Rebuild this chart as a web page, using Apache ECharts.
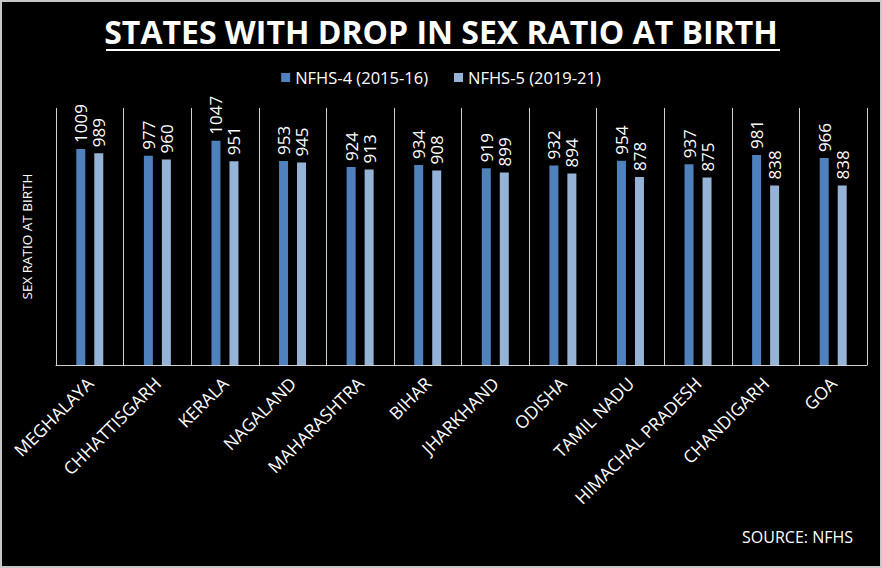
<!DOCTYPE html>
<html lang="en">
<head>
    <meta charset="UTF-8">
    <title>States with drop in sex ratio at birth</title>
    <script src="https://cdn.jsdelivr.net/npm/echarts@6/dist/echarts.min.js"></script>
    <style>
        html, body { margin: 0; padding: 0; background: #000; }
        #ChartId { width: 882px; height: 568px; box-sizing: border-box; border: 2px solid #c8c8c8; }
    </style>
</head>
<body>
<div id="ChartId"></div>
<script>
    // 数据
    var states = ['MEGHALAYA', 'CHHATTISGARH', 'KERALA', 'NAGALAND', 'MAHARASHTRA', 'BIHAR',
        'JHARKHAND', 'ODISHA', 'TAMIL NADU', 'HIMACHAL PRADESH', 'CHANDIGARH', 'GOA'];
    var nfhs4 = [1009, 977, 1047, 953, 924, 934, 919, 932, 954, 937, 981, 966];
    var nfhs5 = [989, 960, 951, 945, 913, 908, 899, 894, 878, 875, 838, 838];
    var seriesNames = ['NFHS-4 (2015-16)', 'NFHS-5 (2019-21)'];

    var font = '"Open Sans", Lato, sans-serif';
    var myChart = echarts.init(document.getElementById('ChartId'), null, {renderer: 'svg'});

    function barLabel() {
        return {
            show: true,
            position: 'top',
            rotate: 90,
            align: 'left',
            verticalAlign: 'middle',
            distance: 6,
            color: '#fff',
            fontFamily: font,
            fontSize: 17
        };
    }

    var option = {
        backgroundColor: '#000',
        title: {
            text: 'STATES WITH DROP IN SEX RATIO AT BIRTH',
            left: 'center',
            top: 8,
            textStyle: {color: '#fff', fontFamily: font, fontWeight: 'bold', fontSize: 32}
        },
        graphic: [{
            type: 'line',
            shape: {x1: 104, y1: 48, x2: 778, y2: 48},
            style: {stroke: '#fff', lineWidth: 2}
        }, {
            type: 'text',
            right: 27,
            top: 527,
            style: {text: 'SOURCE: NFHS', fill: '#fff', font: '16px ' + font}
        }],
        legend: {
            top: 62,
            left: 'center',
            itemWidth: 9,
            itemHeight: 9,
            itemGap: 26,
            icon: 'rect',
            textStyle: {color: '#fff', fontFamily: font, fontSize: 16.5},
            data: seriesNames
        },
        grid: {left: 54, right: 13, top: 106, bottom: 201},
        xAxis: {
            type: 'category',
            data: states,
            axisLine: {lineStyle: {color: '#d0d0d0', width: 1}},
            axisTick: {show: false},
            splitLine: {show: true, lineStyle: {color: '#d0d0d0', width: 1}},
            axisLabel: {
                interval: 0,
                rotate: 45,
                margin: 15,
                color: '#fff',
                fontFamily: font,
                fontSize: 17.5
            }
        },
        yAxis: {
            type: 'value',
            min: 0,
            max: 1200,
            name: 'SEX RATIO AT BIRTH',
            nameLocation: 'middle',
            nameGap: 22,
            nameRotate: 90,
            nameTextStyle: {color: '#fff', fontFamily: font, fontSize: 13.5},
            axisLine: {show: false},
            axisTick: {show: false},
            axisLabel: {show: false},
            splitLine: {show: false}
        },
        series: [{
            name: seriesNames[0],
            type: 'bar',
            data: nfhs4,
            barWidth: 9,
            barGap: '100%',
            itemStyle: {color: '#4f81bd'},
            label: barLabel()
        }, {
            name: seriesNames[1],
            type: 'bar',
            data: nfhs5,
            barWidth: 9,
            itemStyle: {color: '#95b3d7'},
            label: barLabel()
        }]
    };
    myChart.setOption(option);
</script>
</body>
</html>
